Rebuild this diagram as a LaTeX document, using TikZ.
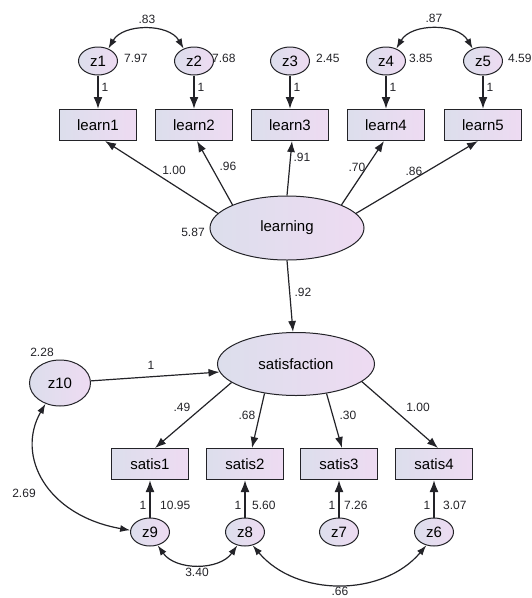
\documentclass[tikz,border=0pt]{standalone}
\usepackage{fontspec}
\setmainfont{Liberation Sans}
\usetikzlibrary{shapes.geometric,arrows.meta}
\definecolor{lavL}{RGB}{220,222,236}
\definecolor{lavR}{RGB}{238,219,242}
\definecolor{ink}{RGB}{35,35,40}
\tikzset{
  box/.style={draw=ink,line width=1pt,left color=lavL,right color=lavR,
    minimum width=77pt,minimum height=31pt,inner sep=0pt,
    font=\fontsize{15}{18}\selectfont},
  latent/.style={draw=ink,ellipse,line width=1pt,left color=lavL,right color=lavR,
    inner sep=0pt,font=\fontsize{15}{18}\selectfont},
  err/.style={latent,minimum width=39pt,minimum height=28pt},
  num/.style={text=ink,inner sep=0pt,font=\fontsize{12}{14}\selectfont},
  fixed/.style={draw=ink,line width=1.8pt,-{Latex[length=12pt,width=9pt]}},
  load/.style={draw=ink,line width=1.2pt,-{Latex[length=11pt,width=8pt]}},
  cov/.style={draw=ink,line width=1.2pt,{Latex[length=10pt,width=7pt]}-{Latex[length=10pt,width=7pt]}}
}
\begin{document}
\begin{tikzpicture}[x=1pt,y=1pt]
  \useasboundingbox (0,0) rectangle (531,-598);
  % learning and its indicators
  \foreach \i/\x/\dx/\v in {1/98/26/7.97,2/194/18/7.68,3/290/26/2.45,
    4/386/23/3.85,5/483/25/4.59}{
    \node[err] (z\i) at (\x,-61) {z\i};
    \node[box] (learn\i) at (\x,-125) {learn\i};
    \draw[fixed] (z\i) -- (learn\i);
    \node[num] (one\i) at (\x+7,-87) {1};
    \node[num,anchor=west] (var\i) at (\x+\dx,-58) {\v};
  }
  \node[latent,minimum width=154pt,minimum height=64pt] (learning)
    at (287,-228) {learning};
  \node[num] (varL) at (193,-232) {5.87};
  \foreach \a/\i/\s in {168/1/7,157/2/3,90/3/2,23/4/-2,12/5/-5}
    \draw[load] (learning.\a) -- ([xshift=\s pt]learn\i.south);
  \node[num] (wl1) at (174,-170) {1.00};
  \node[num] (wl2) at (228,-166) {.96};
  \node[num] (wl3) at (302,-157) {.91};
  \node[num] (wl4) at (357,-167) {.70};
  \node[num] (wl5) at (414,-171) {.86};
  \draw[cov] (z1.50) to[out=60,in=120] (z2.130);
  \node[num] (c12) at (147,-19) {.83};
  \draw[cov] (z4.50) to[out=60,in=120] (z5.130);
  \node[num] (c45) at (434,-18) {.87};
  % satisfaction and its indicators
  \node[latent,minimum width=157pt,minimum height=63pt] (satisfaction)
    at (296,-364) {satisfaction};
  \draw[load] (learning.south) -- ([xshift=-3pt]satisfaction.north);
  \node[num] (wls) at (303,-292) {.92};
  \node[latent,minimum width=61pt,minimum height=46pt] (z10) at (60,-383) {z10};
  \node[num] (var10) at (42,-352) {2.28};
  \draw[load] (z10) -- (satisfaction.186);
  \node[num] (one10) at (151,-365) {1};
  \foreach \i/\z/\x/\dx/\v in {1/9/150/10/10.95,2/8/245/7/5.60,
    3/7/339/5/7.26,4/6/434/9/3.07}{
    \node[box] (satis\i) at (\x,-464) {satis\i};
    \node[err] (z\z) at (\x,-532) {z\z};
    \draw[fixed] (z\z) -- (satis\i);
    \node[num] (one\z) at (\x-7,-505) {1};
    \node[num,anchor=west] (var\z) at (\x+\dx,-505) {\v};
  }
  \foreach \a/\i/\s in {196/1/5,223/2/7,316/3/3,345/4/4}
    \draw[load] (satisfaction.\a) -- ([xshift=\s pt]satis\i.north);
  \node[num] (ws1) at (182,-407) {.49};
  \node[num] (ws2) at (247,-415) {.68};
  \node[num] (ws3) at (348,-415) {.30};
  \node[num] (ws4) at (418,-407) {1.00};
  \draw[cov] (z10.235) .. controls +(240:60) and +(170:85) .. (z9.175);
  \node[num] (c109) at (24,-493) {2.69};
  \draw[cov] (z9.300) to[out=-55,in=-125] (z8.240);
  \node[num] (c98) at (197,-572) {3.40};
  \draw[cov] (z8.300) to[out=-50,in=-130] (z6.240);
  \node[num] (c86) at (340,-591) {.66};
\end{tikzpicture}
\end{document}
